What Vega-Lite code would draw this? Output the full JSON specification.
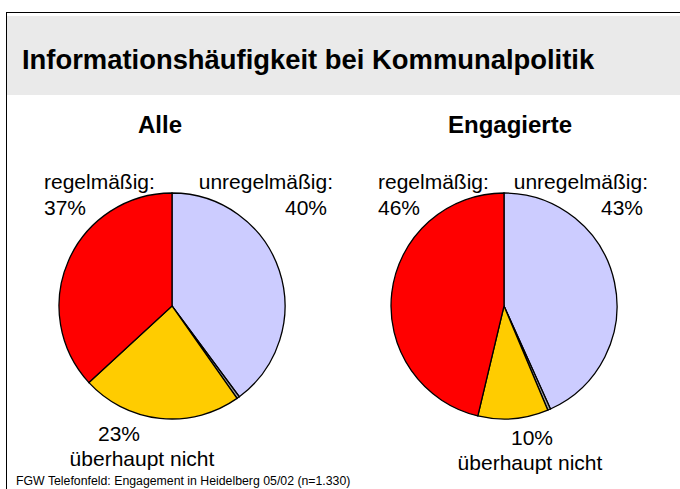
{
  "$schema": "https://vega.github.io/schema/vega-lite/v6.json",
  "padding": {"left": 6, "top": 12, "right": 0, "bottom": 0},
  "background": "white",
  "config": {
    "view": {"stroke": null, "fill": "white"},
    "font": "Liberation Sans",
    "text": {"font": "Liberation Sans", "fontSize": 21, "color": "black", "baseline": "alphabetic"},
    "title": {"font": "Liberation Sans", "color": "black"}
  },
  "datasets": {
    "umfrage": [
      {"gruppe": "Alle", "antwort": "unregelmäßig", "anteil": 0.40},
      {"gruppe": "Alle", "antwort": "keine Angabe", "anteil": 0.004},
      {"gruppe": "Alle", "antwort": "überhaupt nicht", "anteil": 0.23},
      {"gruppe": "Alle", "antwort": "regelmäßig", "anteil": 0.37},
      {"gruppe": "Engagierte", "antwort": "unregelmäßig", "anteil": 0.43},
      {"gruppe": "Engagierte", "antwort": "keine Angabe", "anteil": 0.004},
      {"gruppe": "Engagierte", "antwort": "überhaupt nicht", "anteil": 0.10},
      {"gruppe": "Engagierte", "antwort": "regelmäßig", "anteil": 0.46}
    ]
  },
  "spacing": 0,
  "align": "none",
  "hconcat": [
    {
      "width": 1, "height": 477,
      "view": {"fill": "black", "stroke": null},
      "data": {"values": []},
      "mark": "point",
      "encoding": {}
    },
    {
      "spacing": 0,
      "align": "none",
      "vconcat": [
        {
          "width": 673, "height": 1,
          "view": {"fill": "black", "stroke": null},
          "data": {"values": []},
          "mark": "point",
          "encoding": {}
        },
        {
          "width": 673, "height": 3,
          "data": {"values": []},
          "mark": "point",
          "encoding": {}
        },
        {
          "width": 673, "height": 79,
          "view": {"fill": "#EAEAEA", "stroke": null},
          "title": {
            "text": "Informationshäufigkeit bei Kommunalpolitik",
            "anchor": "start", "frame": "group", "orient": "top",
            "baseline": "alphabetic", "offset": -80, "dx": 15,
            "fontSize": 27.4, "fontWeight": "bold"
          },
          "data": {"values": []},
          "mark": "point",
          "encoding": {}
        },
        {
          "width": 673, "height": 19,
          "data": {"values": []},
          "mark": "point",
          "encoding": {}
        },
        {
          "spacing": 0,
          "align": "none",
          "title": {
            "text": "FGW Telefonfeld: Engagement in Heidelberg 05/02 (n=1.330)",
            "orient": "bottom", "anchor": "start", "frame": "group",
            "baseline": "alphabetic", "offset": 11, "dx": 9,
            "fontSize": 12.3, "fontWeight": "normal"
          },
          "hconcat": [
            {
              "width": 330, "height": 332,
              "title": {"text": "Alle", "fontSize": 24, "fontWeight": "bold", "baseline": "alphabetic", "offset": -17, "dx": -12, "anchor": "middle"},
              "data": {"name": "umfrage"},
              "transform": [
                {"filter": "datum.gruppe === 'Alle'"},
                {"window": [{"op": "row_number", "as": "nr"}]}
              ],
              "layer": [
                {
                  "mark": {"type": "arc", "outerRadius": 113, "stroke": "black", "strokeWidth": 1.3},
                  "encoding": {
                    "theta": {"field": "anteil", "type": "quantitative", "stack": true},
                    "order": {"field": "nr", "type": "quantitative"},
                    "color": {
                      "field": "antwort", "type": "nominal",
                      "scale": {"domain": ["unregelmäßig", "keine Angabe", "überhaupt nicht", "regelmäßig"], "range": ["#CCCCFF", "#A0A0A0", "#FFCC00", "#FF0000"]},
                      "legend": null
                    }
                  }
                },
                {
                  "transform": [{"filter": "datum.antwort === 'regelmäßig'"}],
                  "mark": {"type": "text", "align": "left", "dx": -128, "dy": -117, "text": {"expr": "datum.antwort + ':'"}},
                  "encoding": {}
                },
                {
                  "transform": [{"filter": "datum.antwort === 'regelmäßig'"}],
                  "mark": {"type": "text", "align": "left", "dx": -128, "dy": -91},
                  "encoding": {"text": {"field": "anteil", "type": "quantitative", "format": ".0%"}}
                },
                {
                  "transform": [{"filter": "datum.antwort === 'unregelmäßig'"}],
                  "mark": {"type": "text", "align": "right", "dx": 161, "dy": -117, "text": {"expr": "datum.antwort + ':'"}},
                  "encoding": {}
                },
                {
                  "transform": [{"filter": "datum.antwort === 'unregelmäßig'"}],
                  "mark": {"type": "text", "align": "right", "dx": 155, "dy": -91},
                  "encoding": {"text": {"field": "anteil", "type": "quantitative", "format": ".0%"}}
                },
                {
                  "transform": [{"filter": "datum.antwort === 'überhaupt nicht'"}],
                  "mark": {"type": "text", "align": "center", "dx": -53, "dy": 135},
                  "encoding": {"text": {"field": "anteil", "type": "quantitative", "format": ".0%"}}
                },
                {
                  "transform": [{"filter": "datum.antwort === 'überhaupt nicht'"}],
                  "mark": {"type": "text", "align": "center", "dx": -30, "dy": 160},
                  "encoding": {"text": {"field": "antwort", "type": "nominal"}}
                }
              ]
            },
            {
              "width": 334, "height": 332,
              "title": {"text": "Engagierte", "fontSize": 24, "fontWeight": "bold", "baseline": "alphabetic", "offset": -17, "dx": 6, "anchor": "middle"},
              "data": {"name": "umfrage"},
              "transform": [
                {"filter": "datum.gruppe === 'Engagierte'"},
                {"window": [{"op": "row_number", "as": "nr"}]}
              ],
              "layer": [
                {
                  "mark": {"type": "arc", "outerRadius": 113, "stroke": "black", "strokeWidth": 1.3},
                  "encoding": {
                    "theta": {"field": "anteil", "type": "quantitative", "stack": true},
                    "order": {"field": "nr", "type": "quantitative"},
                    "color": {
                      "field": "antwort", "type": "nominal",
                      "scale": {"domain": ["unregelmäßig", "keine Angabe", "überhaupt nicht", "regelmäßig"], "range": ["#CCCCFF", "#A0A0A0", "#FFCC00", "#FF0000"]},
                      "legend": null
                    }
                  }
                },
                {
                  "transform": [{"filter": "datum.antwort === 'regelmäßig'"}],
                  "mark": {"type": "text", "align": "left", "dx": -126, "dy": -117, "text": {"expr": "datum.antwort + ':'"}},
                  "encoding": {}
                },
                {
                  "transform": [{"filter": "datum.antwort === 'regelmäßig'"}],
                  "mark": {"type": "text", "align": "left", "dx": -126, "dy": -91},
                  "encoding": {"text": {"field": "anteil", "type": "quantitative", "format": ".0%"}}
                },
                {
                  "transform": [{"filter": "datum.antwort === 'unregelmäßig'"}],
                  "mark": {"type": "text", "align": "right", "dx": 144, "dy": -117, "text": {"expr": "datum.antwort + ':'"}},
                  "encoding": {}
                },
                {
                  "transform": [{"filter": "datum.antwort === 'unregelmäßig'"}],
                  "mark": {"type": "text", "align": "right", "dx": 139, "dy": -91},
                  "encoding": {"text": {"field": "anteil", "type": "quantitative", "format": ".0%"}}
                },
                {
                  "transform": [{"filter": "datum.antwort === 'überhaupt nicht'"}],
                  "mark": {"type": "text", "align": "center", "dx": 28, "dy": 139},
                  "encoding": {"text": {"field": "anteil", "type": "quantitative", "format": ".0%"}}
                },
                {
                  "transform": [{"filter": "datum.antwort === 'überhaupt nicht'"}],
                  "mark": {"type": "text", "align": "center", "dx": 26, "dy": 164},
                  "encoding": {"text": {"field": "antwort", "type": "nominal"}}
                }
              ]
            }
          ]
        }
      ]
    }
  ]
}
